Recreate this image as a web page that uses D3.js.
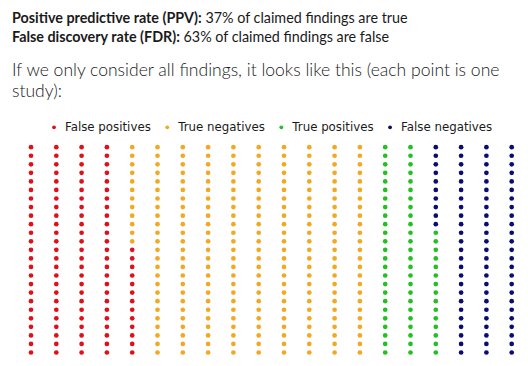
<!DOCTYPE html>
<html>
<head>
<meta charset="utf-8">
<script src="https://cdn.jsdelivr.net/npm/d3@7"></script>
<style>
  html, body { margin: 0; padding: 0; background: #fff; }
  svg { display: block; }
</style>
</head>
<body>
<svg id="chart" width="528" height="366"></svg>
<script>
// ---- data ----
const categories = ["False positives", "True negatives", "True positives", "False negatives"];
const counts = [113, 237, 65, 85];
const colors = ["#e0101b", "#f2a922", "#22c022", "#0b0b72"];
const legendOrder = ["False positives", "True negatives", "True positives", "False negatives"];
const nCols = 20;
const nRows = 25;
const headerBold = ["Positive predictive rate (PPV):", "False discovery rate (FDR):"];
const headerRest = [" 37% of claimed findings are true", " 63% of claimed findings are false"];
const introLines = ["If we only consider all findings, it looks like this (each point is one", "study):"];

const svg = d3.select("#chart");

// ---- header text ----
const headFont = "Lato, 'Open Sans', sans-serif";
const headers = svg.append("g");
headerBold.forEach((b, i) => {
  const t = headers.append("text")
    .attr("x", 12).attr("y", [23.3, 42][i])
    .attr("font-family", headFont).attr("font-size", 14.5).attr("fill", "#1a1a1a");
  t.append("tspan").attr("font-weight", "bold").text(b);
  t.append("tspan").text(headerRest[i]);
});
(function fit() {
  const nodes = headers.selectAll("text").nodes();
  const w = nodes[0].getComputedTextLength();
  headers.selectAll("text").attr("font-size", 14.5 * 396 / w);
})();

const intro = svg.append("g");
introLines.forEach((l, i) => {
  intro.append("text")
    .attr("x", 12).attr("y", [76, 97][i])
    .attr("font-family", headFont).attr("font-size", 18).attr("font-weight", 300)
    .attr("fill", "#1a1a1a").text(l);
});
(function fit() {
  const n = intro.select("text").node();
  const w = n.getComputedTextLength();
  intro.selectAll("text").attr("font-size", 18 * 488 / w);
})();

// ---- dots ----
const x = d3.scaleLinear().domain([0, nCols - 1]).range([31, 511.7]);
const y = d3.scaleLinear().domain([0, nRows - 1]).range([352.5, 147.2]);
const color = d3.scaleOrdinal().domain(categories).range(colors);

const points = [];
let idx = 0;
categories.forEach((c, k) => {
  for (let j = 0; j < counts[k]; j++, idx++) {
    points.push({ cat: c, col: Math.floor(idx / nRows), row: idx % nRows });
  }
});

svg.append("g").selectAll("circle").data(points).join("circle")
  .attr("cx", d => x(d.col))
  .attr("cy", d => y(d.row))
  .attr("r", 2.35)
  .attr("fill", d => color(d.cat));

// ---- legend ----
const legend = svg.append("g").attr("transform", "translate(0,127.3)");
let lx = 54;
legendOrder.forEach(c => {
  const g = legend.append("g").attr("transform", `translate(${lx},0)`);
  g.append("circle").attr("r", 1.9).attr("fill", color(c));
  const t = g.append("text").attr("x", 11).attr("dy", "0.35em")
    .attr("font-family", "'DejaVu Sans', sans-serif").attr("font-size", 11.8)
    .attr("fill", "#1a1a1a").text(c);
  lx += 11 + t.node().getComputedTextLength() + 16.5;
});
</script>
</body>
</html>
